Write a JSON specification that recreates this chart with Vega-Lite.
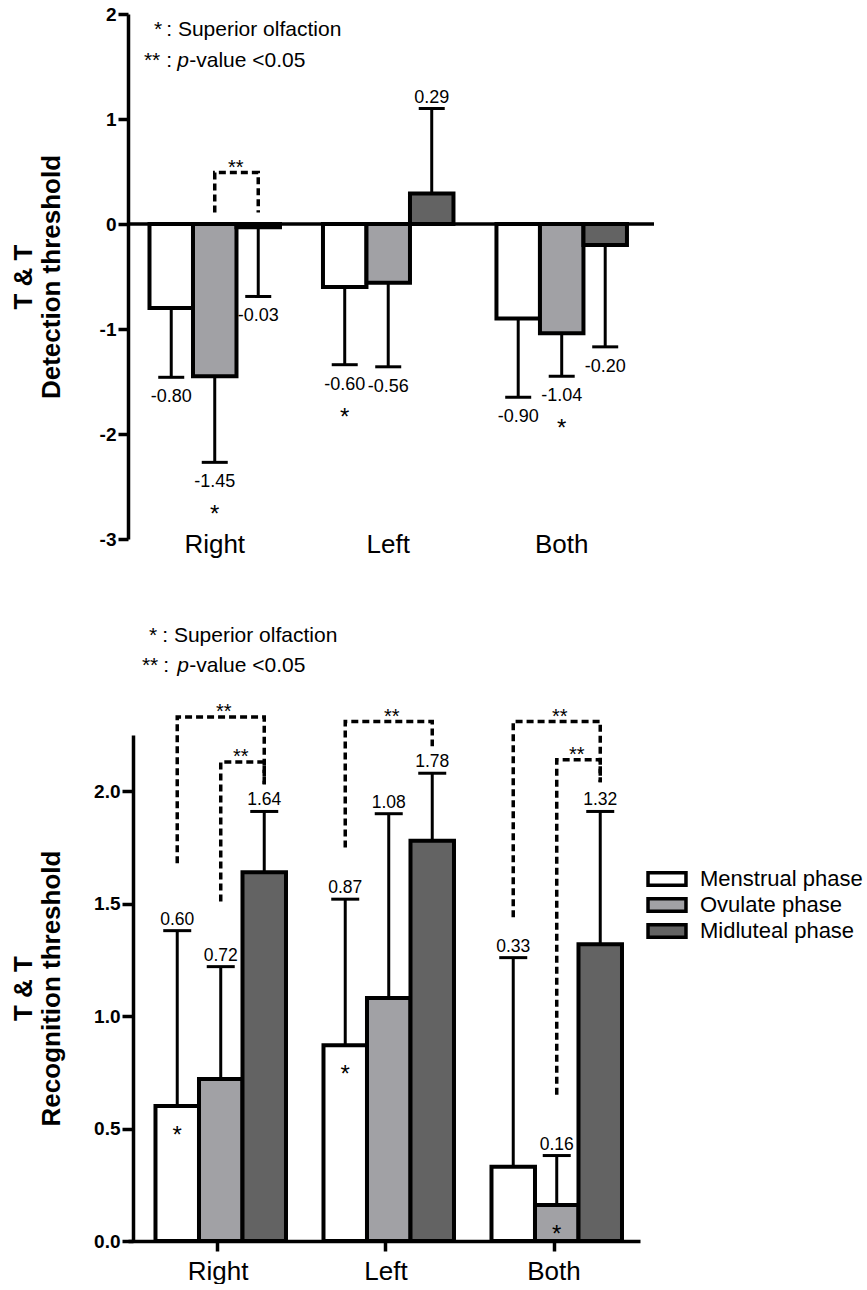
{
  "$schema": "https://vega.github.io/schema/vega-lite/v6.json",
  "background": "white",
  "padding": {"top": 5, "left": 10, "right": 0, "bottom": 0},
  "spacing": 68,
  "config": {
    "font": "Liberation Sans",
    "locale": {"number": {"decimal": ".", "thousands": ",", "grouping": [3], "currency": ["$", ""], "minus": "-"}},
    "view": {"stroke": null},
    "axis": {"grid": false, "domainColor": "black", "tickColor": "black", "labelColor": "black", "titleColor": "black", "labelFont": "Liberation Sans", "titleFont": "Liberation Sans"},
    "text": {"font": "Liberation Sans", "color": "black"}
  },
  "datasets": {
    "one": [{}],
    "detection": [
      {"side": "Right", "phase": "Menstrual phase", "mean": -0.80, "err": -1.46, "sig": ""},
      {"side": "Right", "phase": "Ovulate phase", "mean": -1.45, "err": -2.27, "sig": "*"},
      {"side": "Right", "phase": "Midluteal phase", "mean": -0.03, "err": -0.69, "sig": ""},
      {"side": "Left", "phase": "Menstrual phase", "mean": -0.60, "err": -1.34, "sig": "*"},
      {"side": "Left", "phase": "Ovulate phase", "mean": -0.56, "err": -1.36, "sig": ""},
      {"side": "Left", "phase": "Midluteal phase", "mean": 0.29, "err": 1.10, "sig": ""},
      {"side": "Both", "phase": "Menstrual phase", "mean": -0.90, "err": -1.65, "sig": ""},
      {"side": "Both", "phase": "Ovulate phase", "mean": -1.04, "err": -1.45, "sig": "*"},
      {"side": "Both", "phase": "Midluteal phase", "mean": -0.20, "err": -1.17, "sig": ""}
    ],
    "recognition": [
      {"side": "Right", "phase": "Menstrual phase", "mean": 0.60, "err": 1.38, "sig": "*"},
      {"side": "Right", "phase": "Ovulate phase", "mean": 0.72, "err": 1.22, "sig": ""},
      {"side": "Right", "phase": "Midluteal phase", "mean": 1.64, "err": 1.91, "sig": ""},
      {"side": "Left", "phase": "Menstrual phase", "mean": 0.87, "err": 1.52, "sig": "*"},
      {"side": "Left", "phase": "Ovulate phase", "mean": 1.08, "err": 1.90, "sig": ""},
      {"side": "Left", "phase": "Midluteal phase", "mean": 1.78, "err": 2.08, "sig": ""},
      {"side": "Both", "phase": "Menstrual phase", "mean": 0.33, "err": 1.26, "sig": ""},
      {"side": "Both", "phase": "Ovulate phase", "mean": 0.16, "err": 0.38, "sig": "*"},
      {"side": "Both", "phase": "Midluteal phase", "mean": 1.32, "err": 1.91, "sig": ""}
    ],
    "detectionBrackets": [
      {"id": "R-in", "k": 1, "side": "Right", "phase": "Ovulate phase", "y": 0.11},
      {"id": "R-in", "k": 2, "side": "Right", "phase": "Ovulate phase", "y": 0.49},
      {"id": "R-in", "k": 3, "side": "Right", "phase": "Midluteal phase", "y": 0.49},
      {"id": "R-in", "k": 4, "side": "Right", "phase": "Midluteal phase", "y": 0.11}
    ],
    "detectionPairs": [
      {"side": "Right", "phase": "Ovulate phase", "y": 0.49, "span": "narrow"}
    ],
    "recognitionBrackets": [
      {"id": "R-out", "k": 1, "side": "Right", "phase": "Menstrual phase", "y": 1.68},
      {"id": "R-out", "k": 2, "side": "Right", "phase": "Menstrual phase", "y": 2.33},
      {"id": "R-out", "k": 3, "side": "Right", "phase": "Midluteal phase", "y": 2.33},
      {"id": "R-out", "k": 4, "side": "Right", "phase": "Midluteal phase", "y": 2.03},
      {"id": "R-in", "k": 1, "side": "Right", "phase": "Ovulate phase", "y": 1.51},
      {"id": "R-in", "k": 2, "side": "Right", "phase": "Ovulate phase", "y": 2.13},
      {"id": "R-in", "k": 3, "side": "Right", "phase": "Midluteal phase", "y": 2.13},
      {"id": "R-in", "k": 4, "side": "Right", "phase": "Midluteal phase", "y": 2.03},
      {"id": "L-out", "k": 1, "side": "Left", "phase": "Menstrual phase", "y": 1.75},
      {"id": "L-out", "k": 2, "side": "Left", "phase": "Menstrual phase", "y": 2.31},
      {"id": "L-out", "k": 3, "side": "Left", "phase": "Midluteal phase", "y": 2.31},
      {"id": "L-out", "k": 4, "side": "Left", "phase": "Midluteal phase", "y": 2.20},
      {"id": "B-out", "k": 1, "side": "Both", "phase": "Menstrual phase", "y": 1.44},
      {"id": "B-out", "k": 2, "side": "Both", "phase": "Menstrual phase", "y": 2.31},
      {"id": "B-out", "k": 3, "side": "Both", "phase": "Midluteal phase", "y": 2.31},
      {"id": "B-out", "k": 4, "side": "Both", "phase": "Midluteal phase", "y": 2.04},
      {"id": "B-in", "k": 1, "side": "Both", "phase": "Ovulate phase", "y": 0.65},
      {"id": "B-in", "k": 2, "side": "Both", "phase": "Ovulate phase", "y": 2.14},
      {"id": "B-in", "k": 3, "side": "Both", "phase": "Midluteal phase", "y": 2.14},
      {"id": "B-in", "k": 4, "side": "Both", "phase": "Midluteal phase", "y": 2.04}
    ],
    "recognitionPairs": [
      {"side": "Right", "phase": "Ovulate phase", "y": 2.33, "span": "wide"},
      {"side": "Right", "phase": "Ovulate phase", "y": 2.13, "span": "narrow"},
      {"side": "Left", "phase": "Ovulate phase", "y": 2.31, "span": "wide"},
      {"side": "Both", "phase": "Ovulate phase", "y": 2.31, "span": "wide"},
      {"side": "Both", "phase": "Ovulate phase", "y": 2.14, "span": "narrow"}
    ]
  },
  "resolve": {"scale": {"fill": "independent"}, "legend": {"fill": "independent"}},
  "vconcat": [
    {
      "width": 526,
      "height": 525,
      "layer": [
        {
          "data": {"name": "detection"},
          "mark": {"type": "rule", "strokeWidth": 3, "color": "black"},
          "encoding": {
            "x": {"field": "side", "type": "nominal", "sort": ["Right", "Left", "Both"],
                  "scale": {"paddingInner": 0, "paddingOuter": 0.016, "align": 0},
                  "axis": {"title": null, "domain": false, "ticks": false, "labelAngle": 0, "labelFontSize": 26, "labelPadding": -8}},
            "xOffset": {"field": "phase", "type": "nominal", "sort": ["Menstrual phase", "Ovulate phase", "Midluteal phase"],
                        "scale": {"paddingInner": 0, "paddingOuter": 0.494}},
            "y": {"field": "mean", "type": "quantitative",
                  "scale": {"domain": [-3, 2], "nice": false, "zero": false},
                  "axis": {"title": ["T & T", "Detection  threshold"], "values": [-3, -2, -1, 0, 1, 2], "format": "d",
                           "labelFontSize": 19, "labelFontWeight": "bold", "labelPadding": 2,
                           "tickSize": 10, "tickWidth": 3.5, "domainWidth": 3.5,
                           "titleFontSize": 26, "titleFontWeight": "bold", "titlePadding": 35}},
            "y2": {"field": "err"}
          }
        },
        {
          "data": {"name": "detection"},
          "mark": {"type": "tick", "orient": "horizontal", "size": 26, "thickness": 3, "color": "black", "opacity": 1},
          "encoding": {
            "x": {"field": "side", "type": "nominal", "sort": ["Right", "Left", "Both"]},
            "xOffset": {"field": "phase", "type": "nominal", "sort": ["Menstrual phase", "Ovulate phase", "Midluteal phase"]},
            "y": {"field": "err", "type": "quantitative"}
          }
        },
        {
          "data": {"name": "detection"},
          "mark": {"type": "bar", "stroke": "black", "strokeWidth": 4, "opacity": 1},
          "encoding": {
            "x": {"field": "side", "type": "nominal", "sort": ["Right", "Left", "Both"]},
            "xOffset": {"field": "phase", "type": "nominal", "sort": ["Menstrual phase", "Ovulate phase", "Midluteal phase"]},
            "y": {"field": "mean", "type": "quantitative"},
            "y2": {"datum": 0},
            "fill": {"field": "phase", "type": "nominal",
                     "scale": {"domain": ["Menstrual phase", "Ovulate phase", "Midluteal phase"], "range": ["#ffffff", "#a1a1a5", "#636363"]},
                     "legend": null}
          }
        },
        {
          "data": {"name": "one"},
          "mark": {"type": "rule", "strokeWidth": 3.5, "color": "black"},
          "encoding": {"y": {"datum": 0}}
        },
        {
          "data": {"name": "detection"},
          "transform": [{"filter": "datum.mean < 0"}],
          "mark": {"type": "text", "baseline": "alphabetic", "align": "center", "dy": 25, "fontSize": 18},
          "encoding": {
            "x": {"field": "side", "type": "nominal", "sort": ["Right", "Left", "Both"]},
            "xOffset": {"field": "phase", "type": "nominal", "sort": ["Menstrual phase", "Ovulate phase", "Midluteal phase"]},
            "y": {"field": "err", "type": "quantitative"},
            "text": {"field": "mean", "type": "quantitative", "format": ".2f"}
          }
        },
        {
          "data": {"name": "detection"},
          "transform": [{"filter": "datum.mean >= 0"}],
          "mark": {"type": "text", "baseline": "alphabetic", "align": "center", "dy": -6, "fontSize": 18},
          "encoding": {
            "x": {"field": "side", "type": "nominal", "sort": ["Right", "Left", "Both"]},
            "xOffset": {"field": "phase", "type": "nominal", "sort": ["Menstrual phase", "Ovulate phase", "Midluteal phase"]},
            "y": {"field": "err", "type": "quantitative"},
            "text": {"field": "mean", "type": "quantitative", "format": ".2f"}
          }
        },
        {
          "data": {"name": "detection"},
          "transform": [{"filter": "datum.sig == '*'"}],
          "mark": {"type": "text", "baseline": "alphabetic", "align": "center", "dy": 60, "fontSize": 24},
          "encoding": {
            "x": {"field": "side", "type": "nominal", "sort": ["Right", "Left", "Both"]},
            "xOffset": {"field": "phase", "type": "nominal", "sort": ["Menstrual phase", "Ovulate phase", "Midluteal phase"]},
            "y": {"field": "err", "type": "quantitative"},
            "text": {"field": "sig"}
          }
        },
        {
          "data": {"name": "detectionBrackets"},
          "mark": {"type": "line", "color": "black", "strokeWidth": 3.5, "strokeDash": [7, 4]},
          "encoding": {
            "x": {"field": "side", "type": "nominal", "sort": ["Right", "Left", "Both"]},
            "xOffset": {"field": "phase", "type": "nominal", "sort": ["Menstrual phase", "Ovulate phase", "Midluteal phase"]},
            "y": {"field": "y", "type": "quantitative"},
            "detail": {"field": "id"},
            "order": {"field": "k", "type": "quantitative"}
          }
        },
        {
          "data": {"name": "detectionPairs"},
          "mark": {"type": "text", "baseline": "alphabetic", "align": "center", "dx": 21, "dy": 1, "fontSize": 20, "text": "**"},
          "encoding": {
            "x": {"field": "side", "type": "nominal", "sort": ["Right", "Left", "Both"]},
            "xOffset": {"field": "phase", "type": "nominal", "sort": ["Menstrual phase", "Ovulate phase", "Midluteal phase"]},
            "y": {"field": "y", "type": "quantitative"}
          }
        },
        {
          "data": {"name": "one"},
          "mark": {"type": "text", "baseline": "alphabetic", "align": "right", "dx": -9, "fontSize": 21, "text": "*"},
          "encoding": {"x": {"datum": "Right"}, "xOffset": {"datum": "Menstrual phase"}, "y": {"datum": 1.79}}
        },
        {
          "data": {"name": "one"},
          "mark": {"type": "text", "baseline": "alphabetic", "align": "left", "dx": -5, "fontSize": 21, "text": ": Superior olfaction"},
          "encoding": {"x": {"datum": "Right"}, "xOffset": {"datum": "Menstrual phase"}, "y": {"datum": 1.79}}
        },
        {
          "data": {"name": "one"},
          "mark": {"type": "text", "baseline": "alphabetic", "align": "right", "dx": -11, "fontSize": 21, "text": "**"},
          "encoding": {"x": {"datum": "Right"}, "xOffset": {"datum": "Menstrual phase"}, "y": {"datum": 1.495}}
        },
        {
          "data": {"name": "one"},
          "mark": {"type": "text", "baseline": "alphabetic", "align": "left", "dx": -5, "fontSize": 21, "text": ":"},
          "encoding": {"x": {"datum": "Right"}, "xOffset": {"datum": "Menstrual phase"}, "y": {"datum": 1.495}}
        },
        {
          "data": {"name": "one"},
          "mark": {"type": "text", "baseline": "alphabetic", "align": "left", "dx": 6, "fontSize": 21, "fontStyle": "italic", "text": "p"},
          "encoding": {"x": {"datum": "Right"}, "xOffset": {"datum": "Menstrual phase"}, "y": {"datum": 1.495}}
        },
        {
          "data": {"name": "one"},
          "mark": {"type": "text", "baseline": "alphabetic", "align": "left", "dx": 18, "fontSize": 21, "text": "-value <0.05"},
          "encoding": {"x": {"datum": "Right"}, "xOffset": {"datum": "Menstrual phase"}, "y": {"datum": 1.495}}
        }
      ]
    },
    {
      "width": 512,
      "height": 506,
      "layer": [
        {
          "data": {"name": "recognition"},
          "mark": {"type": "rule", "strokeWidth": 3, "color": "black"},
          "encoding": {
            "x": {"field": "side", "type": "nominal", "sort": ["Right", "Left", "Both"],
                  "scale": {"paddingInner": 0, "paddingOuter": 0.0238, "align": 0.75},
                  "axis": {"title": null, "domainWidth": 3.5, "tickWidth": 3.5, "tickSize": 10, "labelAngle": 0, "labelFontSize": 26, "labelPadding": 7}},
            "xOffset": {"field": "phase", "type": "nominal", "sort": ["Menstrual phase", "Ovulate phase", "Midluteal phase"],
                        "scale": {"paddingInner": 0, "paddingOuter": 0.5}},
            "y": {"field": "mean", "type": "quantitative",
                  "scale": {"domain": [0, 2.25], "nice": false, "zero": false},
                  "axis": {"title": ["T & T", "Recognition  threshold"], "values": [0, 0.5, 1, 1.5, 2], "format": ".1f", "offset": -5,
                           "labelFontSize": 19, "labelFontWeight": "bold", "labelPadding": 2,
                           "tickSize": 11, "tickWidth": 3.5, "domainWidth": 3.5,
                           "titleFontSize": 26, "titleFontWeight": "bold", "titlePadding": 29}},
            "y2": {"field": "err"}
          }
        },
        {
          "data": {"name": "recognition"},
          "mark": {"type": "tick", "orient": "horizontal", "size": 28, "thickness": 3, "color": "black", "opacity": 1},
          "encoding": {
            "x": {"field": "side", "type": "nominal", "sort": ["Right", "Left", "Both"]},
            "xOffset": {"field": "phase", "type": "nominal", "sort": ["Menstrual phase", "Ovulate phase", "Midluteal phase"]},
            "y": {"field": "err", "type": "quantitative"}
          }
        },
        {
          "data": {"name": "recognition"},
          "mark": {"type": "bar", "stroke": "black", "strokeWidth": 4, "opacity": 1},
          "encoding": {
            "x": {"field": "side", "type": "nominal", "sort": ["Right", "Left", "Both"]},
            "xOffset": {"field": "phase", "type": "nominal", "sort": ["Menstrual phase", "Ovulate phase", "Midluteal phase"]},
            "y": {"field": "mean", "type": "quantitative"},
            "y2": {"datum": 0},
            "fill": {"field": "phase", "type": "nominal",
                     "scale": {"domain": ["Menstrual phase", "Ovulate phase", "Midluteal phase"], "range": ["#ffffff", "#a1a1a5", "#636363"]},
                     "legend": {"orient": "none", "legendX": 528, "legendY": 133, "title": null, "padding": 0,
                                "symbolType": "M-3,-1H3V1H-3Z", "symbolSize": 160, "symbolStrokeColor": "black", "symbolStrokeWidth": 3.5, "symbolOpacity": 1,
                                "labelFontSize": 22, "labelFont": "Liberation Sans", "labelColor": "black", "labelOffset": 22, "labelLimit": 0, "rowPadding": -2}}
          }
        },
        {
          "data": {"name": "recognition"},
          "mark": {"type": "text", "baseline": "alphabetic", "align": "center", "dy": -6, "fontSize": 17.5},
          "encoding": {
            "x": {"field": "side", "type": "nominal", "sort": ["Right", "Left", "Both"]},
            "xOffset": {"field": "phase", "type": "nominal", "sort": ["Menstrual phase", "Ovulate phase", "Midluteal phase"]},
            "y": {"field": "err", "type": "quantitative"},
            "text": {"field": "mean", "type": "quantitative", "format": ".2f"}
          }
        },
        {
          "data": {"name": "recognition"},
          "transform": [{"filter": "datum.sig == '*'"}],
          "mark": {"type": "text", "baseline": "alphabetic", "align": "center", "dy": 37, "fontSize": 24},
          "encoding": {
            "x": {"field": "side", "type": "nominal", "sort": ["Right", "Left", "Both"]},
            "xOffset": {"field": "phase", "type": "nominal", "sort": ["Menstrual phase", "Ovulate phase", "Midluteal phase"]},
            "y": {"field": "mean", "type": "quantitative"},
            "text": {"field": "sig"}
          }
        },
        {
          "data": {"name": "recognitionBrackets"},
          "mark": {"type": "line", "color": "black", "strokeWidth": 3.5, "strokeDash": [7, 4]},
          "encoding": {
            "x": {"field": "side", "type": "nominal", "sort": ["Right", "Left", "Both"]},
            "xOffset": {"field": "phase", "type": "nominal", "sort": ["Menstrual phase", "Ovulate phase", "Midluteal phase"]},
            "y": {"field": "y", "type": "quantitative"},
            "detail": {"field": "id"},
            "order": {"field": "k", "type": "quantitative"}
          }
        },
        {
          "data": {"name": "recognitionPairs"},
          "transform": [{"filter": "datum.span == 'wide'"}],
          "mark": {"type": "text", "baseline": "alphabetic", "align": "center", "dx": 3, "dy": 1, "fontSize": 20, "text": "**"},
          "encoding": {
            "x": {"field": "side", "type": "nominal", "sort": ["Right", "Left", "Both"]},
            "xOffset": {"field": "phase", "type": "nominal", "sort": ["Menstrual phase", "Ovulate phase", "Midluteal phase"]},
            "y": {"field": "y", "type": "quantitative"}
          }
        },
        {
          "data": {"name": "recognitionPairs"},
          "transform": [{"filter": "datum.span == 'narrow'"}],
          "mark": {"type": "text", "baseline": "alphabetic", "align": "center", "dx": 20, "dy": 1, "fontSize": 20, "text": "**"},
          "encoding": {
            "x": {"field": "side", "type": "nominal", "sort": ["Right", "Left", "Both"]},
            "xOffset": {"field": "phase", "type": "nominal", "sort": ["Menstrual phase", "Ovulate phase", "Midluteal phase"]},
            "y": {"field": "y", "type": "quantitative"}
          }
        },
        {
          "data": {"name": "one"},
          "mark": {"type": "text", "baseline": "alphabetic", "align": "right", "dx": -20, "fontSize": 21, "text": "*"},
          "encoding": {"x": {"datum": "Right"}, "xOffset": {"datum": "Menstrual phase"}, "y": {"datum": 2.662}}
        },
        {
          "data": {"name": "one"},
          "mark": {"type": "text", "baseline": "alphabetic", "align": "left", "dx": -15, "fontSize": 21, "text": ": Superior olfaction"},
          "encoding": {"x": {"datum": "Right"}, "xOffset": {"datum": "Menstrual phase"}, "y": {"datum": 2.662}}
        },
        {
          "data": {"name": "one"},
          "mark": {"type": "text", "baseline": "alphabetic", "align": "right", "dx": -19, "fontSize": 21, "text": "**"},
          "encoding": {"x": {"datum": "Right"}, "xOffset": {"datum": "Menstrual phase"}, "y": {"datum": 2.529}}
        },
        {
          "data": {"name": "one"},
          "mark": {"type": "text", "baseline": "alphabetic", "align": "left", "dx": -14, "fontSize": 21, "text": ":"},
          "encoding": {"x": {"datum": "Right"}, "xOffset": {"datum": "Menstrual phase"}, "y": {"datum": 2.529}}
        },
        {
          "data": {"name": "one"},
          "mark": {"type": "text", "baseline": "alphabetic", "align": "left", "dx": 0, "fontSize": 21, "fontStyle": "italic", "text": "p"},
          "encoding": {"x": {"datum": "Right"}, "xOffset": {"datum": "Menstrual phase"}, "y": {"datum": 2.529}}
        },
        {
          "data": {"name": "one"},
          "mark": {"type": "text", "baseline": "alphabetic", "align": "left", "dx": 12, "fontSize": 21, "text": "-value <0.05"},
          "encoding": {"x": {"datum": "Right"}, "xOffset": {"datum": "Menstrual phase"}, "y": {"datum": 2.529}}
        }
      ]
    }
  ]
}
